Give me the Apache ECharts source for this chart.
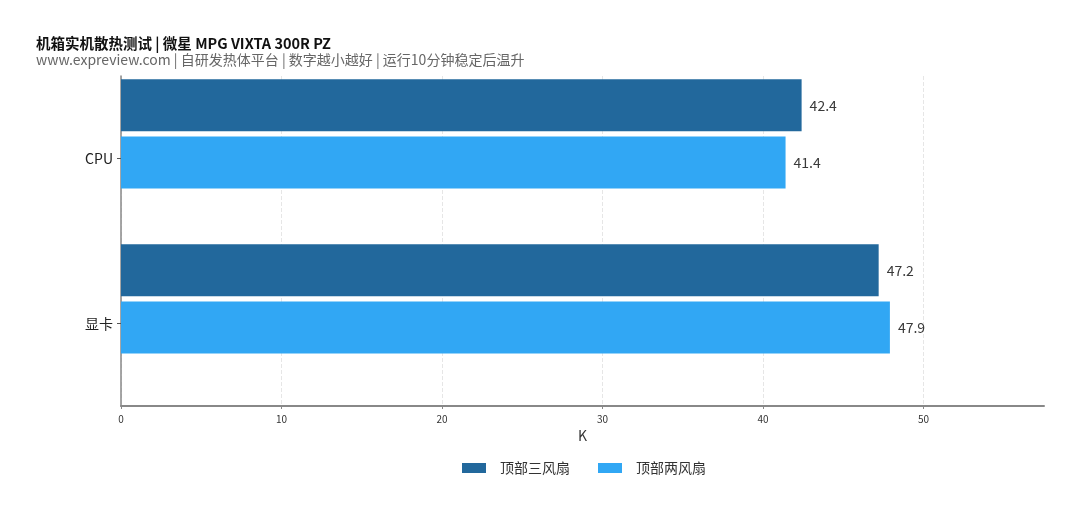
<!DOCTYPE html>
<html>
<head>
<meta charset="utf-8">
<script src="https://cdn.jsdelivr.net/npm/echarts@6/dist/echarts.min.js"></script>
<style>
  html, body { margin: 0; padding: 0; background: #fff; }
  #chart { width: 1080px; height: 518px; }
</style>
</head>
<body>
<div id="chart"></div>
<script>
const categories = ['CPU', '显卡']
const seriesNames = ['顶部三风扇', '顶部两风扇']
const threeFan = [42.4, 47.2]
const twoFan = [41.4, 47.9]
const xTicks = [0, 10, 20, 30, 40, 50]

const font = '"Noto Sans CJK SC", "Noto Sans", sans-serif'

const chart = echarts.init(document.getElementById('chart'))

const labelStyle = {
  show: true,
  position: 'right',
  distance: 8,
  color: '#3a3a3a',
  fontSize: 14,
  fontFamily: font
}

chart.setOption({
  animation: false,
  title: {
    text: '机箱实机散热测试 | 微星 MPG VIXTA 300R PZ',
    subtext: 'www.expreview.com | 自研发热体平台 | 数字越小越好 | 运行10分钟稳定后温升',
    left: 31,
    top: 31,
    itemGap: 2,
    textStyle: { fontSize: 14.5, fontWeight: 'bold', color: '#111', fontFamily: font },
    subtextStyle: { fontSize: 14, color: '#666', fontFamily: font }
  },
  legend: {
    data: seriesNames,
    top: 456,
    left: 457,
    itemWidth: 24,
    itemHeight: 10,
    itemGap: 28,
    icon: 'rect',
    textStyle: { fontSize: 14, color: '#333', fontFamily: font, padding: [0, 0, 0, 9] }
  },
  grid: {
    left: 121,
    right: 36,
    top: 76,
    bottom: 112
  },
  xAxis: {
    type: 'value',
    min: 0,
    max: 57.5,
    interval: 10,
    name: 'K',
    nameLocation: 'middle',
    nameGap: 22,
    nameTextStyle: { fontSize: 14, color: '#333', fontFamily: font },
    axisLine: { show: true, lineStyle: { color: '#888', width: 2 } },
    axisTick: { show: true, length: 3, customValues: xTicks, lineStyle: { color: '#888' } },
    axisLabel: {
      fontSize: 10,
      color: '#333',
      fontFamily: font,
      customValues: xTicks
    },
    splitLine: { show: true, lineStyle: { color: '#e6e6e6', type: 'dashed' } }
  },
  yAxis: {
    type: 'category',
    data: categories,
    inverse: true,
    axisLine: { show: true, lineStyle: { color: '#888', width: 1.5 } },
    axisTick: { show: true, length: 4, alignWithLabel: true, lineStyle: { color: '#555' } },
    axisLabel: { fontSize: 14, color: '#222', margin: 8, fontFamily: font },
    splitLine: { show: false }
  },
  series: [
    {
      name: seriesNames[0],
      type: 'bar',
      data: threeFan,
      barWidth: 52,
      barGap: '10%',
      itemStyle: { color: '#22689c' },
      label: labelStyle
    },
    {
      name: seriesNames[1],
      type: 'bar',
      data: twoFan,
      barWidth: 52,
      barGap: '10%',
      itemStyle: { color: '#31a7f4' },
      label: labelStyle
    },
    {
      // empty slot that leaves the gap under each pair of bars
      name: '',
      type: 'bar',
      data: [],
      barWidth: 44,
      barGap: '10%'
    }
  ]
})
</script>
</body>
</html>
